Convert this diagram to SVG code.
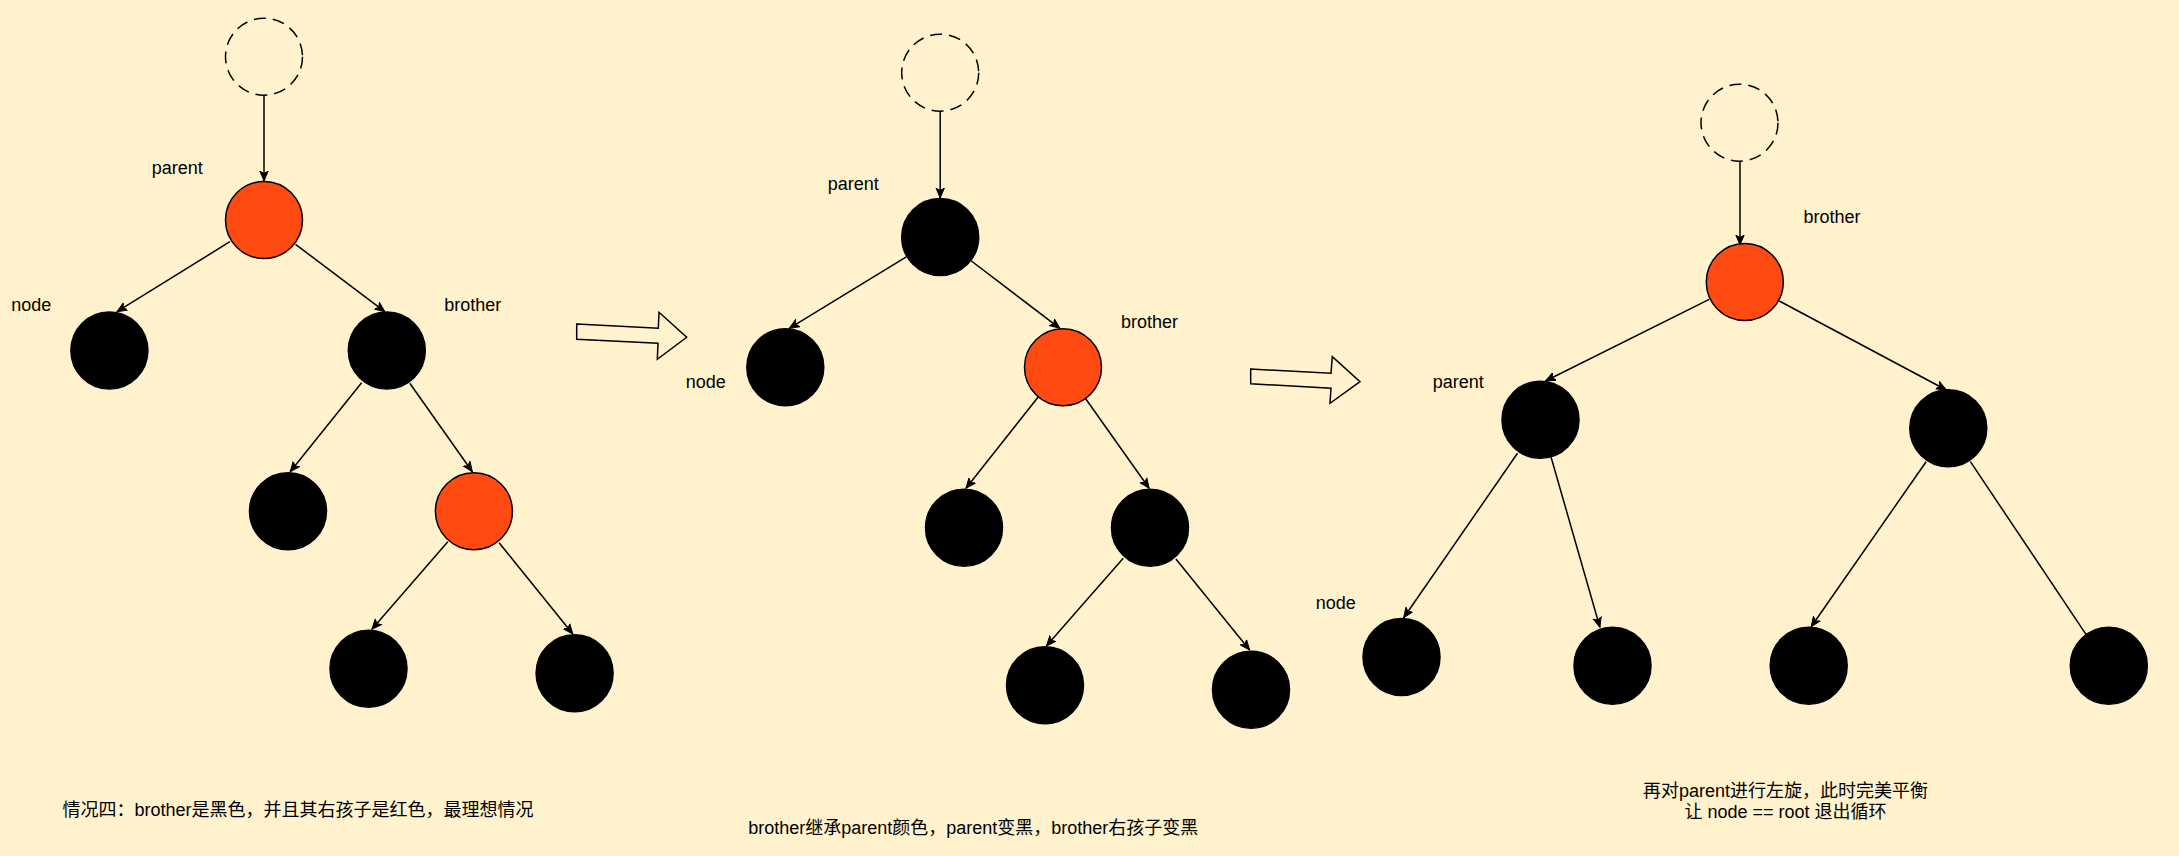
<svg xmlns="http://www.w3.org/2000/svg" width="2179" height="856" viewBox="0 0 2179 856">
<style>
.bk{fill:#000;stroke:#000;stroke-width:1.5}
.rd{fill:#FF4B11;stroke:#000;stroke-width:1.5}
.ds{fill:none;stroke:#000;stroke-width:1.5;stroke-dasharray:12 7}
.e{fill:none;stroke:#000;stroke-width:1.5;marker-end:url(#ah)}
.t{font-family:"Liberation Sans","Noto Sans CJK SC",Arial,sans-serif;font-size:18px;fill:#000}
.ha{fill:#FFF2CC;stroke:#000;stroke-width:1.5;stroke-linejoin:miter}
</style>
<defs>
<marker id="ah" markerUnits="userSpaceOnUse" markerWidth="12" markerHeight="12" refX="10" refY="5" orient="auto">
<path d="M0,0.8 L10,5 L0,9.2 L2.6,5 Z" fill="#000" stroke="#000" stroke-width="1"/>
</marker>
</defs>
<rect width="2179" height="856" fill="#FFF2CC"/>

<g id="connectors">
<!-- tree 1 -->
<line class="e" x1="264" y1="95" x2="264" y2="181"/>
<line class="e" x1="229.9" y1="241.7" x2="117" y2="311.7"/>
<line class="e" x1="295.5" y1="244.3" x2="384.8" y2="311.7"/>
<line class="e" x1="361.6" y1="382.7" x2="290.2" y2="471.7"/>
<line class="e" x1="409.8" y1="383.3" x2="472.3" y2="471.7"/>
<line class="e" x1="447.8" y1="541.7" x2="371.9" y2="629.3"/>
<line class="e" x1="499.1" y1="542.7" x2="572.8" y2="634"/>
<!-- tree 2 -->
<line class="e" x1="940.2" y1="111" x2="940.2" y2="198"/>
<line class="e" x1="906.7" y1="256.7" x2="789.3" y2="328.3"/>
<line class="e" x1="971.4" y1="261" x2="1059.8" y2="328.3"/>
<line class="e" x1="1038.4" y1="396.7" x2="966" y2="488.3"/>
<line class="e" x1="1085.3" y1="398.3" x2="1149.1" y2="488.3"/>
<line class="e" x1="1123.2" y1="558.3" x2="1046.4" y2="646"/>
<line class="e" x1="1175.9" y1="559" x2="1249.6" y2="650"/>
<!-- tree 3 -->
<line class="e" x1="1740" y1="161" x2="1740" y2="245"/>
<line class="e" x1="1709.2" y1="299.3" x2="1545.5" y2="381"/>
<line class="e" x1="1779.3" y1="301" x2="1946.3" y2="390"/>
<line class="e" x1="1517.5" y1="453.3" x2="1403.7" y2="617.7"/>
<line class="e" x1="1551.1" y1="457.3" x2="1599.9" y2="627.3"/>
<line class="e" x1="1926.1" y1="461.7" x2="1811.2" y2="626.7"/>
<line class="e" x1="1970.4" y1="461.7" x2="2092" y2="643.3"/>
</g>

<!-- tree 1 nodes -->
<g id="t1-top"><circle class="ds" cx="264" cy="56.7" r="38.5"/></g>
<g id="t1-parent"><circle class="rd" cx="264" cy="220" r="38.5"/></g>
<g id="t1-node"><circle class="bk" cx="109.4" cy="350.5" r="38.5"/></g>
<g id="t1-brother"><circle class="bk" cx="386.8" cy="350.5" r="38.5"/></g>
<g id="t1-bl"><circle class="bk" cx="288" cy="511.3" r="38.5"/></g>
<g id="t1-br"><circle class="rd" cx="473.9" cy="511.3" r="38.5"/></g>
<g id="t1-brl"><circle class="bk" cx="368.5" cy="668.7" r="38.5"/></g>
<g id="t1-brr"><circle class="bk" cx="574.6" cy="673.3" r="38.5"/></g>

<!-- tree 2 nodes -->
<g id="t2-top"><circle class="ds" cx="940.2" cy="72.7" r="38.5"/></g>
<g id="t2-parent"><circle class="bk" cx="940.2" cy="237" r="38.5"/></g>
<g id="t2-node"><circle class="bk" cx="785.3" cy="367.2" r="38.5"/></g>
<g id="t2-brother"><circle class="rd" cx="1063" cy="367.3" r="38.5"/></g>
<g id="t2-bl"><circle class="bk" cx="964" cy="527.8" r="38.5"/></g>
<g id="t2-br"><circle class="bk" cx="1150" cy="527.8" r="38.5"/></g>
<g id="t2-brl"><circle class="bk" cx="1045" cy="685.3" r="38.5"/></g>
<g id="t2-brr"><circle class="bk" cx="1251" cy="689.8" r="38.5"/></g>

<!-- tree 3 nodes -->
<g id="t3-top"><circle class="ds" cx="1739.5" cy="122.7" r="38.5"/></g>
<g id="t3-brother"><circle class="rd" cx="1744.8" cy="282" r="38.5"/></g>
<g id="t3-parent"><circle class="bk" cx="1540.5" cy="419.7" r="38.5"/></g>
<g id="t3-right"><circle class="bk" cx="1948.3" cy="428.3" r="38.5"/></g>
<g id="t3-node"><circle class="bk" cx="1401.5" cy="657" r="38.5"/></g>
<g id="t3-pr"><circle class="bk" cx="1612.5" cy="665.8" r="38.5"/></g>
<g id="t3-rl"><circle class="bk" cx="1808.7" cy="665.8" r="38.5"/></g>
<g id="t3-rr"><circle class="bk" cx="2108.8" cy="665.8" r="38.5"/></g>

<!-- transition arrows -->
<g id="arrow1"><polygon class="ha" points="576.7,324 658.3,328.3 659,312.3 686.7,337.3 657.3,359.3 658,343.3 576.7,339.3"/></g>
<g id="arrow2"><polygon class="ha" points="1250.7,369 1331,373.3 1332.3,356.7 1360,381.7 1330,403.3 1331,388.3 1250.7,383.7"/></g>

<!-- labels -->
<g id="labels">
<text class="t" x="151.8" y="174">parent</text>
<text class="t" x="11.2" y="311">node</text>
<text class="t" x="444.2" y="311">brother</text>
<text class="t" x="827.7" y="190">parent</text>
<text class="t" x="1121" y="328">brother</text>
<text class="t" x="685.7" y="387.5">node</text>
<text class="t" x="1803.4" y="222.5">brother</text>
<text class="t" x="1432.8" y="387.5">parent</text>
<text class="t" x="1315.7" y="609">node</text>
<text class="t" x="62.5" y="816">情况四：brother是黑色，并且其右孩子是红色，最理想情况</text>
<text class="t" x="748.2" y="834">brother继承parent颜色，parent变黑，brother右孩子变黑</text>
<text class="t" x="1785.5" y="796.5" text-anchor="middle">再对parent进行左旋，此时完美平衡</text>
<text class="t" x="1785.5" y="817.5" text-anchor="middle">让 node == root 退出循环</text>
</g>
</svg>
